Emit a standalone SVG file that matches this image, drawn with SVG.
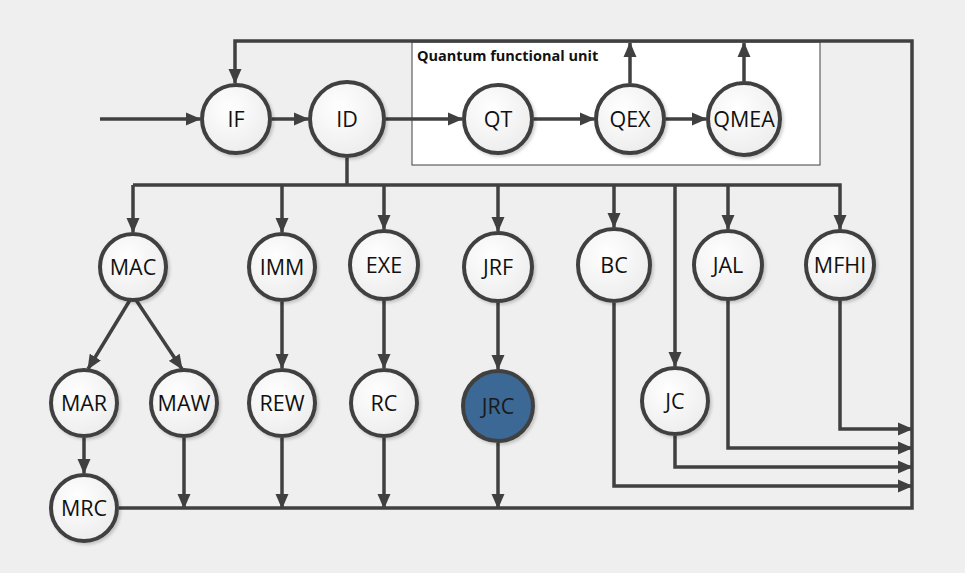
<svg xmlns="http://www.w3.org/2000/svg" width="965" height="573" viewBox="0 0 965 573">
<style>
.bg{fill:#efefef}
.box{fill:#ffffff;stroke:#404040;stroke-width:1}
.boxlabel{font-family:"Open Sans","Noto Sans",sans-serif;font-size:14.5px;font-weight:bold;fill:#111}
.node circle{fill:url(#g);stroke:#404040;stroke-width:4;filter:url(#sh)}
.node text{font-family:"Open Sans","Noto Sans",sans-serif;font-size:21.5px;fill:#111;text-anchor:middle}
.node.hl circle{fill:#3a6795}
.node.hl text{fill:#1a1a1a}
.c{fill:none;stroke:#404040;stroke-width:3.5;stroke-linejoin:miter}
.a{marker-end:url(#arr)}
</style>
<defs>
<radialGradient id="g" cx="0.4" cy="0.35" r="0.7">
<stop offset="0" stop-color="#ffffff"/>
<stop offset="1" stop-color="#ececec"/>
</radialGradient>
<filter id="sh" x="-20%" y="-20%" width="150%" height="150%">
<feDropShadow dx="2" dy="2" stdDeviation="1.5" flood-color="#000" flood-opacity="0.18"/>
</filter>
<marker id="arr" markerUnits="userSpaceOnUse" markerWidth="15" markerHeight="14" refX="14" refY="7" orient="auto">
<path d="M0,0.5 L15,7 L0,13.5 Z" fill="#404040"/>
</marker>
</defs>
<rect class="bg" x="0" y="0" width="965" height="573"/>
<g id="quantum-unit">
<rect class="box" x="412" y="42" width="408" height="123"/>
<text class="boxlabel" x="417" y="61">Quantum functional unit</text>
</g>
<g id="connectors">
<path class="c a" d="M100,119 H200"/>
<path class="c a" d="M272,119 H308"/>
<path class="c a" d="M386,119 H462"/>
<path class="c a" d="M534,119 H594"/>
<path class="c a" d="M666,119 H706"/>
<path class="c a" d="M630,83 V43"/>
<path class="c a" d="M744,81 V43"/>
<path class="c a" d="M119,508 H912 V41 H235 V83"/>
<path class="c" d="M347,158 V185"/>
<path class="c a" d="M133,185 V232"/>
<path class="c a" d="M133,185 H840 V229"/>
<path class="c a" d="M282,185 V232"/>
<path class="c a" d="M384,185 V229"/>
<path class="c a" d="M498,185 V231"/>
<path class="c a" d="M614,185 V227"/>
<path class="c a" d="M675,185 V366"/>
<path class="c a" d="M728,185 V229"/>
<path class="c a" d="M130,300 L88,369"/>
<path class="c a" d="M136,300 L182,369"/>
<path class="c a" d="M282,302 V368"/>
<path class="c a" d="M384,301 V368"/>
<path class="c a" d="M498,303 V369"/>
<path class="c a" d="M84,438 V473"/>
<path class="c a" d="M184,438 V508"/>
<path class="c a" d="M282,438 V508"/>
<path class="c a" d="M384,438 V508"/>
<path class="c a" d="M498,443 V508"/>
<path class="c a" d="M840,301 V429 H912"/>
<path class="c a" d="M728,301 V448 H912"/>
<path class="c a" d="M675,436 V467 H912"/>
<path class="c a" d="M614,303 V486 H912"/>
</g>
<g id="IF" class="node"><circle cx="236" cy="119" r="34"/><text x="236" y="127">IF</text></g>
<g id="ID" class="node"><circle cx="347" cy="119" r="37"/><text x="347" y="127">ID</text></g>
<g id="QT" class="node"><circle cx="498" cy="119" r="34"/><text x="498" y="127">QT</text></g>
<g id="QEX" class="node"><circle cx="630" cy="119" r="34"/><text x="630" y="127">QEX</text></g>
<g id="QMEA" class="node"><circle cx="744" cy="119" r="36"/><text x="744" y="127">QMEA</text></g>
<g id="MAC" class="node"><circle cx="133" cy="267" r="33"/><text x="133" y="275">MAC</text></g>
<g id="IMM" class="node"><circle cx="282" cy="267" r="33"/><text x="282" y="275">IMM</text></g>
<g id="EXE" class="node"><circle cx="384" cy="265" r="34"/><text x="384" y="273">EXE</text></g>
<g id="JRF" class="node"><circle cx="498" cy="267" r="34"/><text x="498" y="275">JRF</text></g>
<g id="BC" class="node"><circle cx="614" cy="265" r="36"/><text x="614" y="273">BC</text></g>
<g id="JAL" class="node"><circle cx="728" cy="265" r="34"/><text x="728" y="273">JAL</text></g>
<g id="MFHI" class="node"><circle cx="840" cy="265" r="34"/><text x="840" y="273">MFHI</text></g>
<g id="MAR" class="node"><circle cx="84" cy="403" r="33"/><text x="84" y="411">MAR</text></g>
<g id="MAW" class="node"><circle cx="184" cy="403" r="33"/><text x="184" y="411">MAW</text></g>
<g id="REW" class="node"><circle cx="282" cy="403" r="33"/><text x="282" y="411">REW</text></g>
<g id="RC" class="node"><circle cx="384" cy="403" r="33"/><text x="384" y="411">RC</text></g>
<g id="JRC" class="node hl"><circle cx="498" cy="406" r="35"/><text x="498" y="414">JRC</text></g>
<g id="JC" class="node"><circle cx="675" cy="401" r="33"/><text x="675" y="409">JC</text></g>
<g id="MRC" class="node"><circle cx="84" cy="508" r="33"/><text x="84" y="516">MRC</text></g>
</svg>
